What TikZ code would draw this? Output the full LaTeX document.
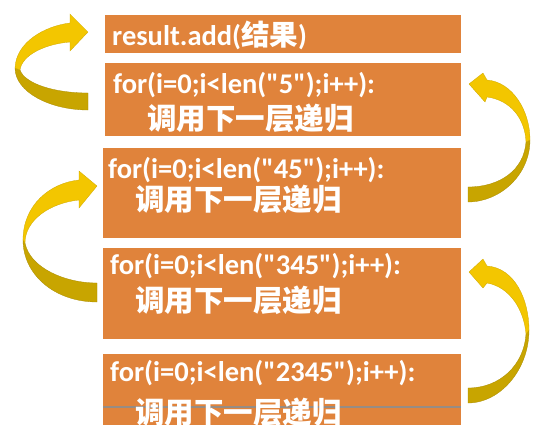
\documentclass[tikz,border=0pt]{standalone}
\usepackage{fontspec}
\setmainfont{Carlito}[Ligatures=TeXOff]
\newfontfamily\cjk{Noto Sans CJK SC}
\usetikzlibrary{positioning,calc}
\definecolor{boxorange}{RGB}{224,131,59}
\definecolor{ribbonfront}{RGB}{243,198,0}
\definecolor{ribbonback}{RGB}{200,165,0}
\definecolor{seamgray}{RGB}{150,140,132}

\begin{document}
\begin{tikzpicture}[x=1pt, y=-1pt,
  levelbox/.style={fill=boxorange, inner sep=0pt, anchor=north west, minimum width=358pt},
  codeline/.style={text=white, font=\bfseries\fontsize{28.5}{30}\selectfont, anchor=base west, inner sep=0pt},
  cjkline/.style={codeline, font=\cjk\bfseries\fontsize{29.5}{30}\selectfont},
  front/.style={fill=ribbonfront, draw=ribbonfront!85!black, line width=0.3pt},
  back/.style={fill=ribbonback, draw=ribbonback!85!black, line width=0.3pt}]
  \useasboundingbox (0,0) rectangle (541,437);

  % boxes
  \node[levelbox, minimum width=356pt, minimum height=38pt] (result) at (105,15) {};
  \node[levelbox, minimum width=356pt, minimum height=73pt] (lvl5) at (105,63) {};
  \node[levelbox, minimum height=90pt] (lvl45) at (103,148) {};
  \node[levelbox, minimum height=91pt] (lvl345) at (103,248) {};
  \node[levelbox, minimum height=71pt] (lvl2345) at (103,354) {};
  \draw[seamgray, line width=2pt] (lvl2345.west |- 0,407) -- (lvl2345.east |- 0,407);

  % texts
  \node[codeline] (resulttxt) at (112,45) {result.add({\cjk 结果})};
  \node[codeline] (for5) at (113,93) {for(i=0;i<len("5");i++):};
  \node[cjkline] (call5) at (147,129) {调用下一层递归};
  \node[codeline] (for45) at (108,178) {for(i=0;i<len("45");i++):};
  \node[cjkline] (call45) at (135,210) {调用下一层递归};
  \node[codeline] (for345) at (110,274) {for(i=0;i<len("345");i++):};
  \node[cjkline] (call345) at (135,311) {调用下一层递归};
  \node[codeline] (for2345) at (110,381) {for(i=0;i<len("2345");i++):};
  \node[cjkline] (call2345) at (135,423) {调用下一层递归};

  % left ribbons
  \draw[back] (15,68) .. controls (15,92) and (50,110) .. (88,110) -- (88,93) .. controls (55,93) and (25,84) .. (20,70) -- cycle;
  \draw[front] (70,23) .. controls (45,26) and (16,42) .. (15,68) -- (20,70) .. controls (22,55) and (45,44) .. (70,42) -- (70,51) -- (88,32) -- (70,14) -- cycle;
  \draw[back] (23,240) .. controls (23,275) and (55,302) .. (97,302) -- (97,283) .. controls (65,283) and (30,268) .. (25,243) -- cycle;
  \draw[front] (79,180) .. controls (50,183) and (23,205) .. (23,240) -- (25,243) .. controls (25,220) and (50,203) .. (79,200) -- (79,208) -- (97,186) -- (79,171) -- cycle;

  % right ribbons
  \draw[back] (530,140) .. controls (530,175) and (500,202) .. (468,202) -- (468,187) .. controls (500,187) and (524,170) .. (526,142) -- cycle;
  \draw[front] (487,80) .. controls (512,82) and (530,110) .. (530,140) -- (526,142) .. controls (525,118) and (510,100) .. (487,97) -- (485,102) -- (469,84) -- (483,73) -- cycle;
  \draw[back] (529,330) .. controls (529,370) and (500,403) .. (468,403) -- (468,388) .. controls (500,388) and (524,365) .. (526,334) -- cycle;
  \draw[front] (487,266) .. controls (515,268) and (529,300) .. (529,330) -- (526,334) .. controls (524,310) and (510,287) .. (487,283) -- (483,288) -- (469,272) -- (483,259) -- cycle;
\end{tikzpicture}
\end{document}
